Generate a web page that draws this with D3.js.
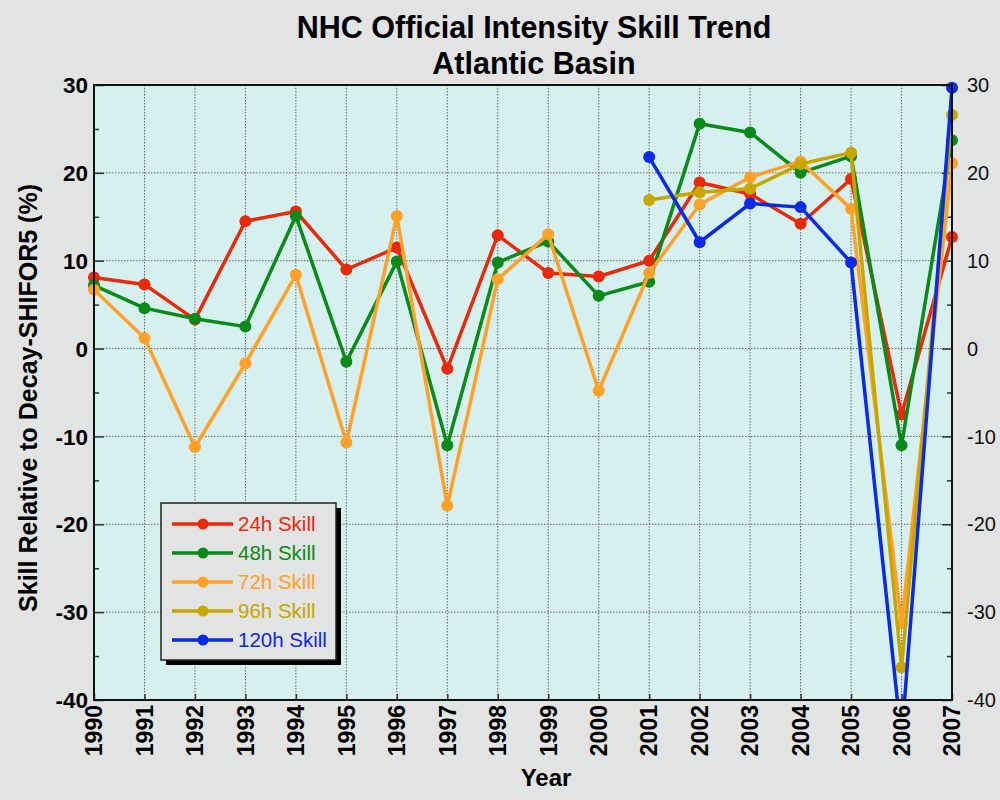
<!DOCTYPE html>
<html>
<head>
<meta charset="utf-8">
<script src="https://cdn.jsdelivr.net/npm/d3@7"></script>
<style>
  body { margin: 0; background: #e2e3e3; }
  text { font-family: "Liberation Sans", Arial, sans-serif; }
</style>
</head>
<body>
<script>
// data
const years = [1990, 1991, 1992, 1993, 1994, 1995, 1996, 1997, 1998, 1999, 2000, 2001, 2002, 2003, 2004, 2005, 2006, 2007]
const skill24 = [8.1, 7.3, 3.3, 14.5, 15.6, 9.0, 11.5, -2.3, 12.9, 8.6, 8.2, 10.0, 18.9, 17.6, 14.2, 19.3, -7.5, 12.7]
const skill48 = [7.2, 4.6, 3.4, 2.5, 15.1, -1.5, 9.9, -11.0, 9.8, 12.2, 6.0, 7.6, 25.6, 24.6, 20.0, 21.9, -11.0, 23.7]
const skill72 = [6.7, 1.2, -11.2, -1.7, 8.4, -10.7, 15.1, -17.9, 7.9, 13.0, -4.8, 8.6, 16.4, 19.5, 21.3, 15.9, -31.3, 21.1]
const skill96 = [null, null, null, null, null, null, null, null, null, null, null, 16.9, 17.8, 18.2, 21.0, 22.3, -36.3, 26.6]
const skill120 = [null, null, null, null, null, null, null, null, null, null, null, 21.8, 12.1, 16.5, 16.1, 9.8, -44.5, 29.7]
const seriesNames = ['24h Skill', '48h Skill', '72h Skill', '96h Skill', '120h Skill']
const seriesColors = ['#e8290b', '#0a8a18', '#ffa028', '#c8a600', '#0a2ae8']
const yTicks = [-40, -30, -20, -10, 0, 10, 20, 30]

const series = [skill24, skill48, skill72, skill96, skill120].map((vals, i) => ({
    name: seriesNames[i],
    color: seriesColors[i],
    points: years.map((y, j) => ({year: y, value: vals[j]})).filter(p => p.value !== null)
}))

const w = 1000
const h = 800
const pLeft = 94, pRight = 952, pTop = 85, pBottom = 700

const svg = d3.select('body')
    .append('svg')
    .attr('width', w)
    .attr('height', h)

svg.append('rect')
    .attr('width', w)
    .attr('height', h)
    .attr('fill', '#e2e3e3')

const xScale = d3.scaleLinear()
    .domain([1990, 2007])
    .range([pLeft, pRight])

const yScale = d3.scaleLinear()
    .domain([-40, 30])
    .range([pBottom, pTop])

svg.append('rect')
    .attr('x', pLeft)
    .attr('y', pTop)
    .attr('width', pRight - pLeft)
    .attr('height', pBottom - pTop)
    .attr('fill', '#d5f0ee')

// dotted grid
svg.append('g')
    .selectAll('line')
    .data(years.slice(1, -1))
    .enter()
    .append('line')
    .attr('x1', d => xScale(d))
    .attr('x2', d => xScale(d))
    .attr('y1', pTop)
    .attr('y2', pBottom)
    .attr('stroke', '#666')
    .attr('stroke-width', 1)
    .attr('stroke-dasharray', '1.5,1.5')

svg.append('g')
    .selectAll('line')
    .data(yTicks.slice(1, -1))
    .enter()
    .append('line')
    .attr('x1', pLeft)
    .attr('x2', pRight)
    .attr('y1', d => yScale(d))
    .attr('y2', d => yScale(d))
    .attr('stroke', '#666')
    .attr('stroke-width', 1)
    .attr('stroke-dasharray', '1.5,1.5')

// axes with inward ticks
const minor = d3.range(-35, 30, 10)

const yLeft = d3.axisRight(yScale).tickValues(yTicks).tickSize(10).tickFormat('')
const yLeftMinor = d3.axisRight(yScale).tickValues(minor).tickSize(5).tickFormat('')
const yRight = d3.axisLeft(yScale).tickValues(yTicks).tickSize(10).tickFormat('')
const yRightMinor = d3.axisLeft(yScale).tickValues(minor).tickSize(5).tickFormat('')
const xAxis = d3.axisTop(xScale).tickValues(years).tickSize(6).tickFormat('')

svg.append('g').attr('transform', 'translate(' + pLeft + ',0)').call(yLeft)
svg.append('g').attr('transform', 'translate(' + pLeft + ',0)').call(yLeftMinor)
svg.append('g').attr('transform', 'translate(' + pRight + ',0)').call(yRight)
svg.append('g').attr('transform', 'translate(' + pRight + ',0)').call(yRightMinor)
svg.append('g').attr('transform', 'translate(0,' + pBottom + ')').call(xAxis)
svg.selectAll('.domain').remove()
svg.selectAll('.tick line').attr('stroke', '#333').attr('stroke-width', 1.5)

// series
const clip = svg.append('clipPath').attr('id', 'plotclip')
clip.append('rect')
    .attr('x', pLeft - 8)
    .attr('y', pTop - 8)
    .attr('width', pRight - pLeft + 16)
    .attr('height', pBottom - pTop + 8)

const lineGen = d3.line()
    .x(d => xScale(d.year))
    .y(d => yScale(d.value))

const plot = svg.append('g')
    .attr('clip-path', 'url(#plotclip)')

series.forEach(s => {
    plot.append('path')
        .datum(s.points)
        .attr('d', lineGen)
        .attr('fill', 'none')
        .attr('stroke', s.color)
        .attr('stroke-width', 3.5)
        .attr('stroke-linejoin', 'round')
    plot.selectAll(null)
        .data(s.points)
        .enter()
        .append('circle')
        .attr('cx', d => xScale(d.year))
        .attr('cy', d => yScale(d.value))
        .attr('r', 6)
        .attr('fill', s.color)
})

// frame
svg.append('rect')
    .attr('x', pLeft)
    .attr('y', pTop)
    .attr('width', pRight - pLeft)
    .attr('height', pBottom - pTop)
    .attr('fill', 'none')
    .attr('stroke', '#111')
    .attr('stroke-width', 2)

// tick labels
svg.append('g')
    .selectAll('text')
    .data(yTicks)
    .enter()
    .append('text')
    .attr('x', pLeft - 6)
    .attr('y', d => yScale(d))
    .attr('dy', '0.36em')
    .attr('text-anchor', 'end')
    .attr('font-size', 22.5)
    .attr('font-weight', 'bold')
    .text(d => d)

svg.append('g')
    .selectAll('text')
    .data(yTicks)
    .enter()
    .append('text')
    .attr('x', pRight + 15)
    .attr('y', d => yScale(d))
    .attr('dy', '0.36em')
    .attr('font-size', 20)
    .attr('fill', '#111')
    .text(d => d)

svg.append('g')
    .selectAll('text')
    .data(years)
    .enter()
    .append('text')
    .attr('transform', d => 'translate(' + xScale(d) + ',' + (pBottom + 5) + ') rotate(-90)')
    .attr('dy', '0.36em')
    .attr('text-anchor', 'end')
    .attr('font-size', 23)
    .attr('font-weight', 'bold')
    .text(d => d)

// titles
svg.append('text')
    .attr('x', 534)
    .attr('y', 38)
    .attr('text-anchor', 'middle')
    .attr('font-size', 30.5)
    .attr('font-weight', 'bold')
    .text('NHC Official Intensity Skill Trend')

svg.append('text')
    .attr('x', 534)
    .attr('y', 74)
    .attr('text-anchor', 'middle')
    .attr('font-size', 30.5)
    .attr('font-weight', 'bold')
    .text('Atlantic Basin')

svg.append('text')
    .attr('x', 546)
    .attr('y', 786)
    .attr('text-anchor', 'middle')
    .attr('font-size', 24)
    .attr('font-weight', 'bold')
    .text('Year')

svg.append('text')
    .attr('transform', 'translate(37,398) rotate(-90)')
    .attr('text-anchor', 'middle')
    .attr('font-size', 25)
    .attr('font-weight', 'bold')
    .text('Skill Relative to Decay-SHIFOR5 (%)')

// legend
const lx = 161, ly = 503, lw = 175, lh = 157
const legend = svg.append('g')
legend.append('rect')
    .attr('x', lx + 5)
    .attr('y', ly + 5)
    .attr('width', lw)
    .attr('height', lh)
    .attr('fill', '#000')
legend.append('rect')
    .attr('x', lx)
    .attr('y', ly)
    .attr('width', lw)
    .attr('height', lh)
    .attr('fill', '#e2e3e3')
    .attr('stroke', '#222')
    .attr('stroke-width', 1.5)

series.forEach((s, i) => {
    const yy = ly + 21 + i * 29
    legend.append('line')
        .attr('x1', lx + 11)
        .attr('x2', lx + 72)
        .attr('y1', yy)
        .attr('y2', yy)
        .attr('stroke', s.color)
        .attr('stroke-width', 3.5)
    legend.append('circle')
        .attr('cx', lx + 42)
        .attr('cy', yy)
        .attr('r', 5.5)
        .attr('fill', s.color)
    legend.append('text')
        .attr('x', lx + 77)
        .attr('y', yy)
        .attr('dy', '0.36em')
        .attr('font-size', 20.5)
        .attr('fill', s.color)
        .text(s.name)
})
</script>
</body>
</html>
